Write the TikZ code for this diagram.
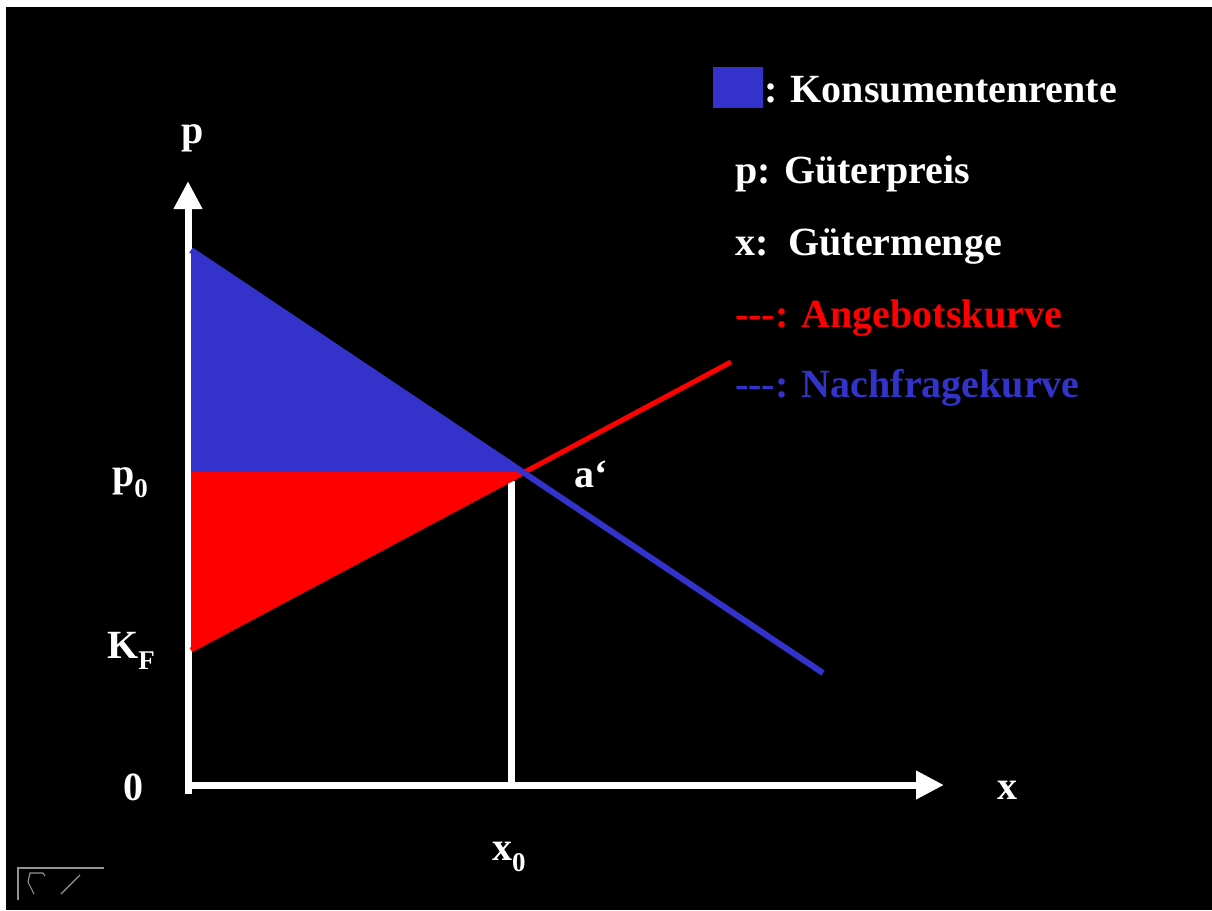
\documentclass[tikz,border=0pt]{standalone}
\usepackage{fontspec}
\setmainfont{Liberation Serif}
\usetikzlibrary{arrows.meta}
\definecolor{cblue}{RGB}{51,51,204}
\definecolor{cred}{RGB}{255,0,0}
\newcommand\sbs[1]{\raisebox{-0.28em}{\fontsize{27}{30}\selectfont #1}}
\begin{document}
\begin{tikzpicture}[x=1pt,y=-1pt,
  lbl/.style={text=white,font=\fontsize{40}{44}\selectfont\bfseries,inner sep=0pt,anchor=base west},
  axisline/.style={white,line width=7pt,-{Triangle[length=28pt,width=27pt]}},
  iconline/.style={gray!85,line width=1.1pt}]
\useasboundingbox (0,0) rectangle (1212,910);
\fill[white] (0,0) rectangle (1212,910);
\fill[black] (6,7) rectangle (1212,910);

% key points
\coordinate (top) at (191,250);
\coordinate (pz) at (191,472);
\coordinate (kf) at (191,650);
\coordinate (eq) at (523,472);
\coordinate (send) at (731,362);
\coordinate (dend) at (823,673);
\coordinate (ybot) at (188,794);
\coordinate (ytop) at (188,181);
\coordinate (xl) at (185,785);
\coordinate (xr) at (944,785);
\coordinate (vtop) at (511,481);
\coordinate (vbot) at (511,785);

% axes
\draw[axisline] (ybot) -- (ytop);
\draw[axisline] (xl) -- (xr);
\draw[white,line width=7pt] (vtop) -- (vbot);

% areas
\fill[cblue] (top) -- (pz) -- (eq) -- cycle;
\fill[cred] (pz) -- (kf) -- (eq) -- cycle;

% curves
\draw[cred,line width=5pt] (kf) -- (send);
\draw[cblue,line width=6pt] (top) -- (dend);

% legend
\fill[cblue] (713,67) rectangle (763,108);
\node[lbl] (kr) at (764,102) {: Konsumentenrente};
\node[lbl] (gp) at (735,183) {p: Güterpreis};
\node[lbl] (gm) at (735,255) {x:\ \ Gütermenge};
\node[lbl,text=cred] (ak) at (735,327) {-{}-{}-: Angebotskurve};
\node[lbl,text=cblue] (nk) at (735,397) {-{}-{}-: Nachfragekurve};

% axis labels
\node[lbl] (lp) at (181,143) {p};
\node[lbl] (lp0) at (112,486) {p\sbs{0}};
\node[lbl] (lkf) at (107,658) {K\sbs{F}};
\node[lbl] (l0) at (123,800) {0};
\node[lbl] (lx) at (997,799) {x};
\node[lbl] (lx0) at (492,860) {x\sbs{0}};
\node[lbl] (la) at (574,487) {a‘};

% small icon bottom left
\draw[iconline] (18,900) -- (18,868) -- (104,868);
\draw[iconline] (45,876) -- (43,873) -- (30,873) -- (28,882) -- (31,888) -- (34,894);
\draw[iconline] (80,875) -- (61,894);
\end{tikzpicture}
\end{document}
